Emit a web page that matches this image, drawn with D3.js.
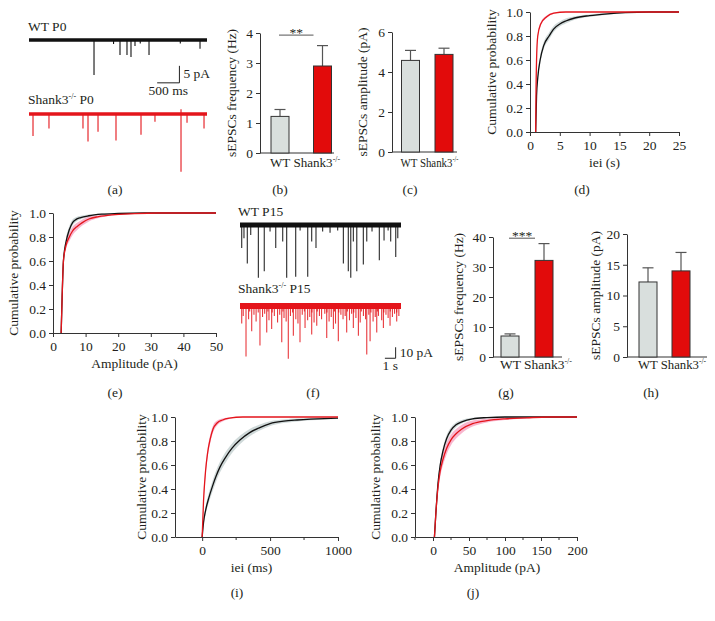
<!DOCTYPE html>
<html><head><meta charset="utf-8">
<script src="https://cdn.jsdelivr.net/npm/d3@7"></script>
<style>
body{margin:0;background:#fff}
svg{display:block;font-family:'Liberation Serif','Times New Roman',serif}
text{font-family:'Liberation Serif','Times New Roman',serif;fill:#231f20}
</style>
</head><body>
<svg id="c" width="715" height="621"></svg>
<script>
// ---------------- DATA ----------------
const barCategories = ["WT", "Shank3"];
// P0 bar data
const p0FreqMean = [1.22, 2.9],  p0FreqErr = [0.23, 0.68];
const p0AmpMean  = [4.58, 4.88], p0AmpErr  = [0.5, 0.31];
// P15 bar data
const p15FreqMean = [7.0, 32.2], p15FreqErr = [0.7, 5.6];
const p15AmpMean  = [12.2, 14.0], p15AmpErr = [2.3, 3.0];
// tick values
const p0FreqTicks = [0, 1, 2, 3, 4];
const p0AmpTicks = [0, 2, 4, 6];
const p15FreqTicks = [0, 10, 20, 30, 40];
const p15AmpTicks = [0, 5, 10, 15, 20];
const cdfTicks = [0, 0.2, 0.4, 0.6, 0.8, 1.0];
const dTicks = [0, 5, 10, 15, 20, 25];
const eTicks = [0, 10, 20, 30, 40, 50];
const iTicks = [0, 500, 1000], iMinor = [250, 750];
const jTicks = [0, 50, 100, 150, 200], jMinor = [-25, 25, 75, 125, 175];

// traces: [time, current pA]  (P0 in ms, P15 in s)
const p0WtEvents = [[1461,-10.3],[1900,-1.2],[2045,-4.4],[2202,-4.4],[2292,-5.0],[2382,-1.8],[2500,-1.0],[2697,-4.4],[3400,-1.0],[3843,-2.6]];
const p0KoEvents = [[90,-6.5],[449,-4.3],[1213,-4.3],[1326,-8.1],[1551,-5.2],[1955,-7.8],[2517,-6.1],[2831,-2.3],[3416,-17],[3416,1.4],[3551,-2.6],[3933,-4.3]];
const p15WtEvents = [[0.16,-21],[0.37,-12],[0.68,-35],[1.0,-9],[1.71,-48],[2.26,-42],[2.8,-6],[3.33,-21],[3.98,-15],[4.35,-48],[5.19,-47],[5.6,-5],[6.31,-47],[6.68,-15],[7.08,-21],[7.7,-6],[8.39,-7],[9.1,-5],[9.63,-35],[10.09,-42],[10.32,-48],[10.56,-15],[10.88,-42],[11.49,-36],[11.81,-15],[12.3,-6],[12.98,-32],[13.42,-14],[13.8,-5],[14.04,-15],[14.51,-29],[14.70,-12]];
const p15KoEvents = [[0.16,-16],[0.56,-46],[1.09,-23],[1.86,-36],[2.49,-24],[2.95,-21],[3.89,-33],[4.5,-48],[4.97,-27],[5.59,-33],[6.06,-20],[6.68,-26],[7.15,-18],[8.08,-29],[8.7,-21],[9.16,-32],[9.94,-24],[10.56,-20],[11.03,-27],[11.81,-44],[12.12,-32],[12.74,-24],[13.36,-20],[13.98,-18],[14.6,-14],
 [0.3,-9],[0.8,-12],[1.3,-8],[1.5,-14],[2.1,-10],[2.3,-7],[2.7,-13],[3.2,-9],[3.5,-15],[3.7,-8],[4.1,-11],[4.3,-14],[4.7,-9],[5.2,-12],[5.4,-16],[5.8,-8],[6.3,-13],[6.5,-10],[6.9,-15],[7.4,-9],[7.6,-12],[7.9,-7],[8.3,-14],[8.5,-10],[8.9,-16],[9.4,-8],[9.6,-12],[9.8,-9],[10.2,-13],[10.4,-7],[10.8,-11],[11.2,-15],[11.5,-9],[11.7,-12],[12.0,-8],[12.4,-14],[12.6,-10],[12.9,-9],[13.2,-13],[13.6,-8],[13.8,-11],[14.2,-10],[14.4,-7],[14.8,-9],
 [0.9,-5],[1.7,-6],[2.6,-5],[3.0,-6],[4.0,-5],[4.9,-6],[6.0,-5],[6.7,-6],[7.2,-5],[8.1,-6],[8.8,-5],[9.2,-6],[10.0,-5],[10.6,-6],[11.3,-5],[12.2,-6],[12.8,-5],[13.4,-6],[14.0,-5],[14.6,-6]];

// cumulative distributions: [x, probability, band half-width]
const dIeiWt = [[0.95,0,0],[1.1,0.3,0.01],[1.3,0.45,0.02],[1.7,0.6,0.03],[2.3,0.72,0.03],[3.2,0.8,0.03],[4,0.86,0.025],[5,0.9,0.02],[6,0.925,0.02],[7.5,0.95,0.015],[10,0.97,0.01],[13,0.985,0.008],[16,0.995,0.004],[20,1,0],[25,1,0]];
const dIeiKo = [[0.95,0,0],[1.0,0.3,0.01],[1.1,0.6,0.02],[1.3,0.8,0.02],[1.8,0.9,0.015],[2.8,0.96,0.01],[4,0.99,0.005],[6,1,0],[25,1,0]];
const eAmpWt = [[2.5,0,0],[2.8,0.3,0.01],[3.2,0.6,0.02],[4,0.76,0.03],[5,0.86,0.03],[6,0.92,0.025],[7,0.945,0.02],[8.5,0.962,0.015],[11,0.977,0.01],[15,0.99,0.005],[20,0.996,0.003],[28,1,0],[50,1,0]];
const eAmpKo = [[2.5,0,0],[2.8,0.3,0.01],[3.2,0.6,0.02],[4,0.73,0.03],[5,0.8,0.035],[6,0.85,0.035],[7.5,0.89,0.03],[9,0.92,0.025],[11,0.95,0.02],[14,0.97,0.012],[18,0.985,0.006],[25,0.995,0.003],[32,1,0],[50,1,0]];
const iIeiWt = [[0,0,0],[10,0.12,0.02],[25,0.22,0.03],[50,0.33,0.04],[75,0.42,0.045],[100,0.5,0.045],[130,0.58,0.045],[170,0.66,0.045],[220,0.74,0.04],[280,0.81,0.035],[350,0.87,0.03],[420,0.91,0.025],[500,0.945,0.02],[600,0.965,0.015],[700,0.975,0.012],[800,0.982,0.01],[900,0.987,0.008],[1000,0.99,0.006]];
const iIeiKo = [[0,0,0],[10,0.3,0.03],[25,0.55,0.04],[40,0.7,0.04],[60,0.82,0.035],[80,0.9,0.03],[110,0.95,0.02],[150,0.975,0.012],[200,0.99,0.006],[300,1,0],[1000,1,0]];
const jAmpWt = [[2,0,0],[4,0.2,0.02],[7,0.45,0.03],[10,0.6,0.03],[14,0.72,0.03],[19,0.82,0.03],[25,0.89,0.025],[32,0.935,0.02],[40,0.96,0.015],[55,0.985,0.008],[75,0.995,0.004],[100,1,0],[200,1,0]];
const jAmpKo = [[2,0,0],[4,0.2,0.03],[7,0.42,0.04],[10,0.55,0.05],[14,0.65,0.05],[19,0.74,0.05],[25,0.81,0.045],[32,0.86,0.04],[40,0.9,0.035],[55,0.945,0.025],[75,0.97,0.015],[100,0.985,0.01],[130,0.993,0.005],[160,1,0],[200,1,0]];

// ---------------- STYLE ----------------
const WT_FILL = "#d9dfdd", KO_FILL = "#e20b0b", EDGE = "#333";
const BLACK = "#111", RED = "#e4151b";
const GREY_BAND = "#bfcccc", PINK_BAND = "#f27aa5";
const FS = 13.5;
const SERIF = "'Liberation Serif','Times New Roman',serif";

const svg = d3.select("#c");

function styleAxis(g) {
  g.attr("font-family", SERIF).attr("font-size", FS);
  g.selectAll("path.domain").attr("stroke", EDGE).attr("stroke-width", 1);
  g.selectAll(".tick line").attr("stroke", EDGE).attr("stroke-width", 1);
  g.selectAll(".tick text").attr("font-size", FS).attr("font-family", SERIF).attr("fill", "#231f20");
}

function yLabel(x, y, txt) {
  svg.append("text").attr("transform", `translate(${x},${y}) rotate(-90)`)
    .attr("text-anchor", "middle").attr("font-size", FS).text(txt);
}
function panelLabel(x, y, txt) {
  svg.append("text").attr("x", x).attr("y", y).attr("text-anchor", "middle").attr("font-size", FS).text(txt);
}
// text with "-/-" superscript after the base, then optional trailing text
function koText(sel, base, tail) {
  sel.append("tspan").text(base);
  sel.append("tspan").attr("font-size", 8).attr("dy", -5).text("-/-");
  if (tail) sel.append("tspan").attr("dy", 5).text(tail);
  return sel;
}

// ---------------- BAR CHARTS ----------------
function barChart(o) {
  const y = d3.scaleLinear().domain([0, o.ticks[o.ticks.length - 1]]).range([o.y0, o.y1]);
  const x = d3.scalePoint().domain(barCategories).range(o.centers);
  const bw = 18;
  const g = svg.append("g");
  g.append("line").attr("x1", o.ax).attr("x2", o.axEnd).attr("y1", y(0)).attr("y2", y(0)).attr("stroke", EDGE);
  const ya = g.append("g").attr("transform", `translate(${o.ax},0)`)
    .call(d3.axisLeft(y).tickValues(o.ticks).tickFormat(d3.format("d")).tickSize(4).tickSizeOuter(0).tickPadding(3));
  styleAxis(ya);
  barCategories.forEach((c, i) => {
    const cx = x(c), top = y(o.mean[i] + o.err[i]);
    g.append("line").attr("x1", cx).attr("x2", cx).attr("y1", y(o.mean[i])).attr("y2", top).attr("stroke", "#555").attr("stroke-width", 1.2);
    g.append("line").attr("x1", cx - 5.5).attr("x2", cx + 5.5).attr("y1", top).attr("y2", top).attr("stroke", "#555").attr("stroke-width", 1.2);
  });
  g.selectAll("rect.bar").data(barCategories).join("rect")
    .attr("x", c => x(c) - bw / 2).attr("width", bw)
    .attr("y", (c, i) => y(o.mean[i])).attr("height", (c, i) => y(0) - y(o.mean[i]))
    .attr("fill", (c, i) => i === 0 ? WT_FILL : KO_FILL).attr("stroke", EDGE).attr("stroke-width", 1);
  // category labels as one line, "WT" centred under its bar
  const lab = g.append("text").attr("x", x("WT") - 10).attr("y", o.labY).attr("font-size", FS)
    .attr("textLength", o.labW).attr("lengthAdjust", "spacingAndGlyphs");
  koText(lab, "WT Shank3");
  if (o.sig) {
    const ly = y(o.sig.level);
    g.append("line").attr("x1", x("WT") - 1).attr("x2", x("Shank3") - 9).attr("y1", ly).attr("y2", ly).attr("stroke", "#555");
    g.append("text").attr("x", (x("WT") + x("Shank3") - 10) / 2).attr("y", ly + 1.5).attr("text-anchor", "middle").attr("font-size", FS).attr("fill", "#555").text(o.sig.txt);
  }
  yLabel(o.ylx, (o.y0 + o.y1) / 2, o.ylabel);
}

barChart({ax: 260, axEnd: 334, y0: 153, y1: 33, ticks: p0FreqTicks, centers: [280, 322.5], mean: p0FreqMean, err: p0FreqErr, labY: 167, labW: 70, ylx: 236, ylabel: "sEPSCs frequency (Hz)", sig: {level: 4 - 0.07, txt: "**"}});
barChart({ax: 392, axEnd: 457, y0: 152, y1: 32, ticks: p0AmpTicks, centers: [410.5, 444], mean: p0AmpMean, err: p0AmpErr, labY: 167, labW: 58, ylx: 367, ylabel: "sEPSCs amplitude (pA)"});
barChart({ax: 493, axEnd: 562, y0: 357, y1: 237, ticks: p15FreqTicks, centers: [510, 544], mean: p15FreqMean, err: p15FreqErr, labY: 369, labW: 72, ylx: 463, ylabel: "sEPSCs frequency (Hz)", sig: {level: 39.6, txt: "***"}});
barChart({ax: 627, axEnd: 707, y0: 357, y1: 234, ticks: p15AmpTicks, centers: [648, 681], mean: p15AmpMean, err: p15AmpErr, labY: 369, labW: 68, ylx: 600, ylabel: "sEPSCs amplitude (pA)"});

// ---------------- CDF CHARTS ----------------
function cdfChart(o) {
  const x = d3.scaleLinear().domain(o.xDomain).range(o.xRange);
  const y = d3.scaleLinear().domain([0, 1]).range(o.yRange);
  const g = svg.append("g");
  const series = [{d: o.wt, line: BLACK, band: GREY_BAND, bo: 0.75}, {d: o.ko, line: RED, band: PINK_BAND, bo: 0.55}];
  const area = d3.area().curve(d3.curveMonotoneX).x(d => x(d[0]))
    .y0(d => y(Math.max(0, d[1] - d[2]))).y1(d => y(Math.min(1, d[1] + d[2])));
  const line = d3.line().curve(d3.curveMonotoneX).x(d => x(d[0])).y(d => y(d[1]));
  series.forEach(s => g.append("path").attr("d", area(s.d)).attr("fill", s.band).attr("fill-opacity", s.bo));
  series.forEach(s => g.append("path").attr("d", line(s.d)).attr("fill", "none").attr("stroke", s.line).attr("stroke-width", 1.3));
  const xa = g.append("g").attr("transform", `translate(0,${o.yRange[0]})`)
    .call(d3.axisBottom(x).tickValues(o.xTicks).tickFormat(d3.format("d")).tickSize(4).tickSizeOuter(0).tickPadding(4));
  styleAxis(xa);
  if (o.xMinor) {
    g.selectAll("line.minor").data(o.xMinor).join("line").attr("x1", d => x(d)).attr("x2", d => x(d))
      .attr("y1", o.yRange[0]).attr("y2", o.yRange[0] + 3).attr("stroke", EDGE);
  }
  const ya = g.append("g").attr("transform", `translate(${o.xRange[0]},0)`)
    .call(d3.axisLeft(y).tickValues(cdfTicks).tickFormat(d3.format(".1f")).tickSize(4).tickSizeOuter(0).tickPadding(3));
  styleAxis(ya);
  g.append("text").attr("x", (o.xRange[0] + o.xRange[1]) / 2 + (o.xlOff || 0)).attr("y", o.yRange[0] + 35)
    .attr("text-anchor", "middle").attr("font-size", FS).text(o.xlabel);
  yLabel(o.ylx, (o.yRange[0] + o.yRange[1]) / 2, "Cumulative probability");
}

cdfChart({xDomain: [0, 25], xRange: [530, 679], yRange: [132, 12], xTicks: dTicks, wt: dIeiWt, ko: dIeiKo, xlabel: "iei (s)", ylx: 496});
cdfChart({xDomain: [0, 50], xRange: [53, 216], yRange: [333, 213], xTicks: eTicks, wt: eAmpWt, ko: eAmpKo, xlabel: "Amplitude (pA)", ylx: 18});
cdfChart({xDomain: [-200, 1000], xRange: [175, 338], yRange: [537, 417], xTicks: iTicks, xMinor: iMinor, wt: iIeiWt, ko: iIeiKo, xlabel: "iei (ms)", ylx: 146, xlOff: -5});
cdfChart({xDomain: [-25, 200], xRange: [415, 577], yRange: [537, 417], xTicks: jTicks, xMinor: jMinor, wt: jAmpWt, ko: jAmpKo, xlabel: "Amplitude (pA)", ylx: 380, xlOff: 1});

// ---------------- TRACES ----------------
function trace(o) {
  const x = d3.scaleLinear().domain([0, o.dur]).range(o.xRange);
  const y = d3.scaleLinear().domain([0, -10]).range([o.base, o.base + 10 * o.pxPerPA]);
  const g = svg.append("g");
  g.append("line").attr("x1", x(0)).attr("x2", x(o.dur)).attr("y1", y(0)).attr("y2", y(0))
    .attr("stroke", o.color).attr("stroke-width", o.band);
  g.selectAll("line.ev").data(o.events).join("line")
    .attr("x1", d => x(d[0])).attr("x2", d => x(d[0]))
    .attr("y1", d => y(0) + (d[1] < 0 ? o.band / 2 - 1 : -o.band / 2 + 1)).attr("y2", d => y(d[1]))
    .attr("stroke", o.color).attr("stroke-width", o.ew).attr("stroke-opacity", o.eo || 1);
  return {x, y};
}
function scaleBar(s, t, a, dt, da, tl, al) {
  const g = svg.append("g");
  const x0 = s.x(t), x1 = s.x(t + dt), yb = s.y(a), yt = s.y(a + da);
  g.append("path").attr("d", `M${x0},${yb}H${x1}V${yt}`).attr("fill", "none").attr("stroke", "#222").attr("stroke-width", 1);
  g.append("text").attr("x", (x0 + x1) / 2).attr("y", yb + 12).attr("text-anchor", "middle").attr("font-size", FS).text(tl);
  g.append("text").attr("x", x1 + 4).attr("y", (yb + yt) / 2 + 4).attr("font-size", FS).text(al);
}

// (a) P0
svg.append("text").attr("x", 28).attr("y", 31).attr("font-size", FS).text("WT P0");
const tA1 = trace({dur: 4000, xRange: [29, 207], base: 40, pxPerPA: 3.4, events: p0WtEvents, color: BLACK, band: 3.5, ew: 1.1});
koText(svg.append("text").attr("x", 28).attr("y", 104).attr("font-size", FS), "Shank3", " P0");
trace({dur: 4000, xRange: [29, 207], base: 114, pxPerPA: 3.4, events: p0KoEvents, color: RED, band: 3.5, ew: 1.1});
scaleBar(tA1, 2880, -12.6, 500, 5, "500 ms", "5 pA");

// (f) P15
svg.append("text").attr("x", 238).attr("y", 216).attr("font-size", FS).text("WT P15");
trace({dur: 15, xRange: [240, 401], base: 225, pxPerPA: 1.1, events: p15WtEvents, color: BLACK, band: 5, ew: 1.1, eo: 0.9});
koText(svg.append("text").attr("x", 238).attr("y", 293).attr("font-size", FS), "Shank3", " P15");
const tF2 = trace({dur: 15, xRange: [240, 401], base: 306, pxPerPA: 1.1, events: p15KoEvents, color: RED, band: 6, ew: 1.1, eo: 0.85});
scaleBar(tF2, 13.5, -47.5, 1, 10, "1 s", "10 pA");

// panel labels
panelLabel(115, 194, "(a)"); panelLabel(280, 194, "(b)"); panelLabel(410, 194, "(c)"); panelLabel(582, 194, "(d)");
panelLabel(115, 397, "(e)"); panelLabel(313, 397, "(f)"); panelLabel(506, 397, "(g)"); panelLabel(651, 397, "(h)");
panelLabel(237, 597, "(i)"); panelLabel(473, 597, "(j)");
</script>
</body></html>
